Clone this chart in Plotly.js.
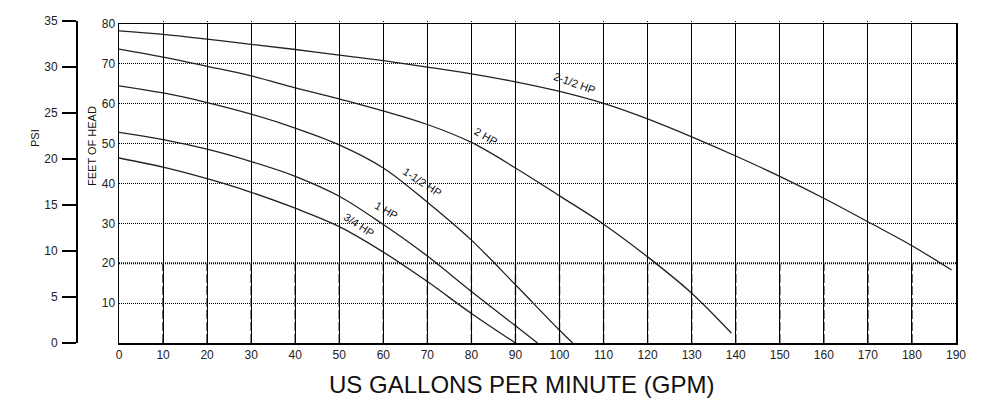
<!DOCTYPE html>
<html>
<head>
<meta charset="utf-8">
<script src="https://cdn.plot.ly/plotly-3.0.1.min.js"></script>
<style>html,body{margin:0;padding:0;background:#fff;}#chart{width:1001px;height:405px;}</style>
</head>
<body>
<div id="chart"></div>
<script>
// ---- data (GPM vs feet of head) ----
var hp34Gpm = [0, 10, 20, 30, 40, 50, 60, 70, 80, 90];
var hp34Ft  = [46.4, 44.1, 41.2, 37.8, 33.8, 29.2, 22.8, 15.4, 7.4, 0];

var hp1Gpm = [0, 10, 20, 30, 40, 50, 60, 70, 80, 90, 95];
var hp1Ft  = [52.8, 51.0, 48.6, 45.5, 41.8, 36.8, 29.7, 21.8, 12.9, 4.3, 0];

var hp15Gpm = [0, 10, 20, 30, 40, 50, 60, 70, 80, 90, 100, 103];
var hp15Ft  = [64.5, 62.7, 60.3, 57.4, 53.9, 49.7, 43.9, 35.3, 25.8, 14.6, 3.2, 0];

var hp2Gpm = [0, 10, 20, 30, 40, 50, 60, 70, 80, 90, 100, 110, 120, 130, 139];
var hp2Ft  = [73.7, 71.7, 69.4, 67.0, 64.0, 61.2, 58.2, 54.8, 50.3, 43.9, 36.9, 29.8, 21.6, 12.5, 2.5];

var hp25Gpm = [0, 10, 20, 30, 40, 50, 60, 70, 80, 90, 100, 110, 120, 130, 140, 150, 160, 170, 180, 189];
var hp25Ft  = [78.3, 77.4, 76.2, 74.9, 73.6, 72.2, 70.8, 69.2, 67.5, 65.5, 63.1, 60.1, 56.2, 51.7, 46.9, 41.8, 36.3, 30.4, 24.4, 18.3];

var seriesNames = ['3/4 HP', '1 HP', '1-1/2 HP', '2 HP', '2-1/2 HP'];
var xTicks = [0, 10, 20, 30, 40, 50, 60, 70, 80, 90, 100, 110, 120, 130, 140, 150, 160, 170, 180, 190];
var ftTicks = [10, 20, 30, 40, 50, 60, 70, 80];
var psiTicks = [0, 5, 10, 15, 20, 25, 30, 35];

// ---- layout geometry ----
var W = 1001, H = 405;
var mL = 60, mR = 45, mT = 21, mB = 62;
var pw = W - mL - mR, ph = H - mT - mB;
function px(x) { return (x - mL) / pw; }
function py(y) { return (H - mB - y) / ph; }

var FONT = 'Liberation Sans, Arial, sans-serif';
var LINE = {color: '#222', width: 1.3, shape: 'spline', smoothing: 1};

var xs = [hp34Gpm, hp1Gpm, hp15Gpm, hp2Gpm, hp25Gpm];
var ys = [hp34Ft, hp1Ft, hp15Ft, hp2Ft, hp25Ft];
var traces = [];
// empty trace on the PSI axis first so its subplot sits underneath
traces.push({x: [], y: [], xaxis: 'x', yaxis: 'y2', showlegend: false, hoverinfo: 'skip'});
for (var i = 0; i < xs.length; i++) {
  traces.push({x: xs[i], y: ys[i], name: seriesNames[i], mode: 'lines', line: LINE,
               xaxis: 'x', yaxis: 'y', hoverinfo: 'x+y+name'});
}

// label placement (x, y in data units, angle)
var labelPos = [[54.5, 29.5, 33], [60.5, 33.25, 30], [68.9, 40.5, 33], [83.2, 52.0, 30], [103.4, 65.25, 20]];
var labelText = ['3/4 HP', '1 HP', '1-1/2 HP', '2 HP', '2-1/2 HP'];

var annotations = [];
for (var j = 0; j < labelText.length; j++) {
  annotations.push({xref: 'x', yref: 'y', x: labelPos[j][0], y: labelPos[j][1], text: labelText[j],
    textangle: labelPos[j][2], showarrow: false, font: {family: FONT, size: 11, color: '#111'},
    xanchor: 'center', yanchor: 'middle'});
}
annotations.push({xref: 'paper', yref: 'paper', x: px(521), y: py(384), text: 'US GALLONS PER MINUTE (GPM)',
  showarrow: false, font: {family: FONT, size: 24, color: '#111'}, xanchor: 'center', yanchor: 'middle'});
annotations.push({xref: 'paper', yref: 'paper', x: px(92), y: py(146), text: 'FEET OF HEAD', textangle: -90,
  showarrow: false, font: {family: FONT, size: 11, color: '#111'}, xanchor: 'center', yanchor: 'middle'});
annotations.push({xref: 'paper', yref: 'paper', x: px(35), y: py(138), text: 'PSI', textangle: -90,
  showarrow: false, font: {family: FONT, size: 11, color: '#111'}, xanchor: 'center', yanchor: 'middle'});

// emphasised 20-ft line and dashed verticals beneath it
var shapes = [{type: 'line', xref: 'x', yref: 'y', x0: 0, x1: 190, y0: 20, y1: 20,
  line: {color: '#000', width: 2, dash: '1px,1px'}, layer: 'above'}];
for (var k = 1; k < xTicks.length - 1; k++) {
  shapes.push({type: 'line', xref: 'x', yref: 'y', x0: xTicks[k], x1: xTicks[k], y0: 0, y1: 20,
    line: {color: '#000', width: 1.3, dash: '9px,3px'}, layer: 'above'});
}

var layout = {
  width: W, height: H,
  margin: {l: mL, r: mR, t: mT, b: mB, pad: 0},
  paper_bgcolor: '#fff', plot_bgcolor: 'rgba(0,0,0,0)',
  showlegend: false,
  font: {family: FONT, size: 12, color: '#111'},
  xaxis: {domain: [px(119), 1], range: [0, 190], tickvals: xTicks, ticktext: xTicks.map(String),
    showgrid: true, gridcolor: '#000', gridwidth: 1, griddash: '1px,1px',
    showline: true, linecolor: '#000', linewidth: 1.5, mirror: true, ticks: '', zeroline: false,
    tickfont: {family: FONT, size: 12, color: '#222'}, anchor: 'y'},
  yaxis: {domain: [0, (343 - 24) / ph], range: [0, 80], tickvals: ftTicks, ticktext: ftTicks.map(String),
    showgrid: true, gridcolor: '#000', gridwidth: 1, griddash: '1px,1px',
    showline: true, linecolor: '#000', linewidth: 1.5, mirror: true, ticks: '', zeroline: false,
    tickfont: {family: FONT, size: 12, color: '#222'}, anchor: 'x'},
  yaxis2: {domain: [0, 1], range: [0, 35], tickvals: psiTicks, ticktext: psiTicks.map(String),
    anchor: 'free', position: px(76), side: 'left', showgrid: false, zeroline: false,
    showline: true, linecolor: '#000', linewidth: 1.5, ticks: 'outside', ticklen: 14, tickwidth: 1.5,
    tickcolor: '#000', ticklabelstandoff: 2, tickfont: {family: FONT, size: 12, color: '#222'}},
  annotations: annotations,
  shapes: shapes
};

Plotly.newPlot('chart', traces, layout, {displayModeBar: false, staticPlot: true});
</script>
</body>
</html>
